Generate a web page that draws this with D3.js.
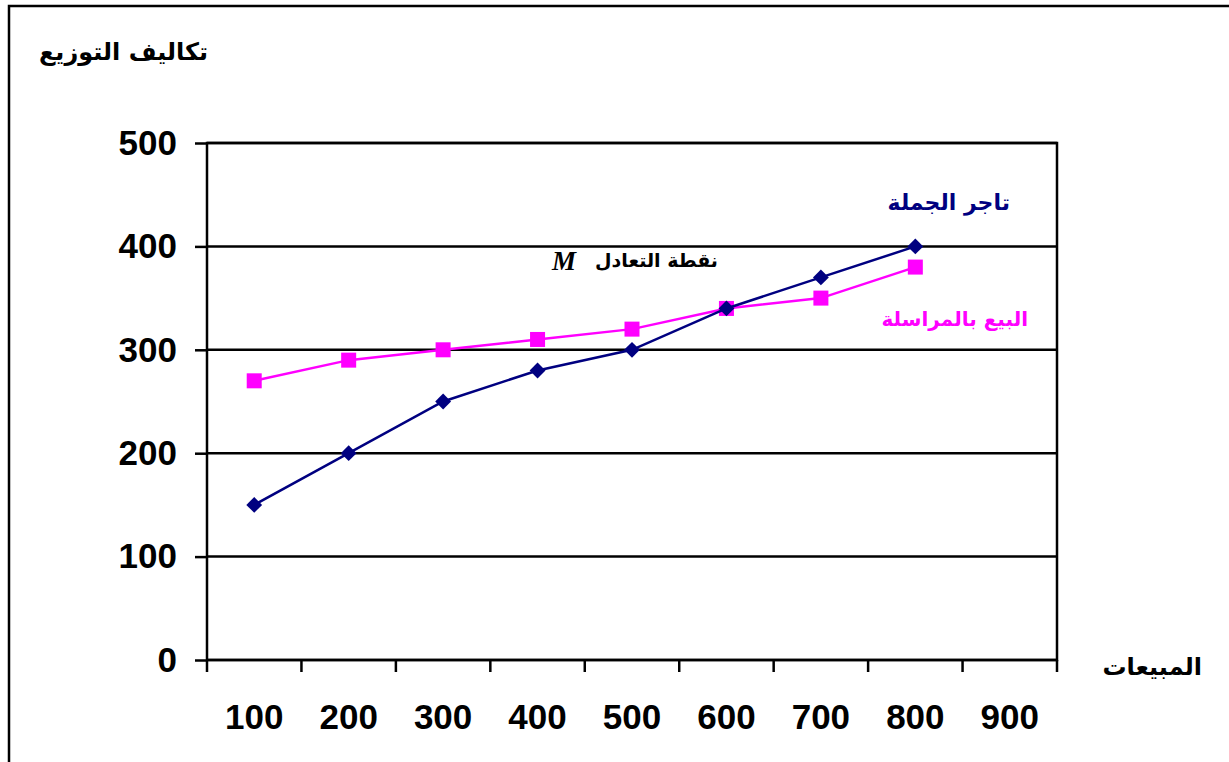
<!DOCTYPE html>
<html><head><meta charset="UTF-8">
<style>
body { margin: 0; background: #fff; }
.grid line { stroke: #000; stroke-width: 2.5px; }
.axis text { font: bold 35px "Liberation Sans", Arial, sans-serif; fill: #000; }
.ar { font-family: "DejaVu Sans", sans-serif; font-weight: bold; }
</style>
</head>
<body>
<svg width="1229" height="762"></svg>
<script src="https://cdn.jsdelivr.net/npm/d3@7"></script>
<script>

var categories = ["100", "200", "300", "400", "500", "600", "700", "800", "900"];
var wholesale = [150, 200, 250, 280, 300, 340, 370, 400];
var mailOrder = [270, 290, 300, 310, 320, 340, 350, 380];
var yTicks = [0, 100, 200, 300, 400, 500];

var svg = d3.select("svg"),
    margin = {top: 143, right: 172, bottom: 102, left: 207},
    width = 1229 - margin.left - margin.right,
    height = 762 - margin.top - margin.bottom;

// outer frame (left + top only)
svg.append("path")
    .attr("d", "M9,762 V6 H1229")
    .attr("fill", "none").attr("stroke", "#000").attr("stroke-width", 2.5);

var g = svg.append("g").attr("transform", "translate(" + margin.left + "," + margin.top + ")");

var x = d3.scaleBand().domain(categories).range([0, width]).padding(0),
    y = d3.scaleLinear().domain([0, 500]).range([height, 0]);

// gridlines
g.append("g").attr("class", "grid")
  .selectAll("line").data(yTicks).enter().append("line")
    .attr("x1", 0).attr("x2", width)
    .attr("y1", function(d) { return y(d); }).attr("y2", function(d) { return y(d); });

// plot border
g.append("rect").attr("width", width).attr("height", height)
    .attr("fill", "none").attr("stroke", "#000").attr("stroke-width", 2.5);

// y axis
var yAxis = g.append("g").attr("class", "axis")
    .call(d3.axisLeft(y).tickValues(yTicks).tickSize(12).tickPadding(18));
yAxis.select(".domain").remove();
yAxis.selectAll("line").attr("stroke", "#000").attr("stroke-width", 2.5);

// x axis: ticks at band boundaries
var xAxis = g.append("g").attr("class", "axis")
    .attr("transform", "translate(0," + height + ")")
    .call(d3.axisBottom(x).tickSize(0).tickPadding(44));
xAxis.select(".domain").remove();
xAxis.selectAll("text").attr("dy", "0.71em");
xAxis.selectAll(".bnd").data(d3.range(categories.length + 1)).enter().append("line")
    .attr("x1", function(i) { return i * x.step(); })
    .attr("x2", function(i) { return i * x.step(); })
    .attr("y1", 0).attr("y2", 12)
    .attr("stroke", "#000").attr("stroke-width", 2.5);

var line = d3.line()
    .x(function(d, i) { return x(categories[i]) + x.bandwidth() / 2; })
    .y(function(d) { return y(d); });

// mail order (magenta squares)
g.append("path").datum(mailOrder)
    .attr("d", line).attr("fill", "none").attr("stroke", "#ff00ff").attr("stroke-width", 2.5);
g.selectAll(".sq").data(mailOrder).enter().append("rect")
    .attr("x", function(d, i) { return x(categories[i]) + x.bandwidth() / 2 - 7.5; })
    .attr("y", function(d) { return y(d) - 7.5; })
    .attr("width", 15).attr("height", 15)
    .attr("fill", "#ff00ff");

// wholesale (navy diamonds)
g.append("path").datum(wholesale)
    .attr("d", line).attr("fill", "none").attr("stroke", "#000080").attr("stroke-width", 2.5);
g.selectAll(".dm").data(wholesale).enter().append("path")
    .attr("d", d3.symbol().type(d3.symbolDiamond2).size(160))
    .attr("transform", function(d, i) { return "translate(" + (x(categories[i]) + x.bandwidth() / 2) + "," + y(d) + ")"; })
    .attr("fill", "#000080");

// labels
svg.append("text").attr("class", "ar").attr("x", 208).attr("y", 60)
    .attr("text-anchor", "end").style("font-size", "24px")
    .text("تكاليف التوزيع");
svg.append("text").attr("class", "ar").attr("x", 1202).attr("y", 675)
    .attr("text-anchor", "end").style("font-size", "24px")
    .text("المبيعات");
svg.append("text").attr("class", "ar").attr("x", 1010).attr("y", 210)
    .attr("text-anchor", "end").style("font-size", "22px").attr("fill", "#000080")
    .text("تاجر الجملة");
svg.append("text").attr("class", "ar").attr("x", 1028).attr("y", 326)
    .attr("text-anchor", "end").style("font-size", "20px").attr("fill", "#ff00ff")
    .text("البيع بالمراسلة");
svg.append("text").attr("class", "ar").attr("x", 718).attr("y", 267)
    .attr("text-anchor", "end").style("font-size", "19px")
    .text("نقطة التعادل");
svg.append("text").attr("x", 552).attr("y", 270)
    .style("font", "italic bold 27px 'Liberation Serif', serif")
    .text("M");

</script>
</body></html>
